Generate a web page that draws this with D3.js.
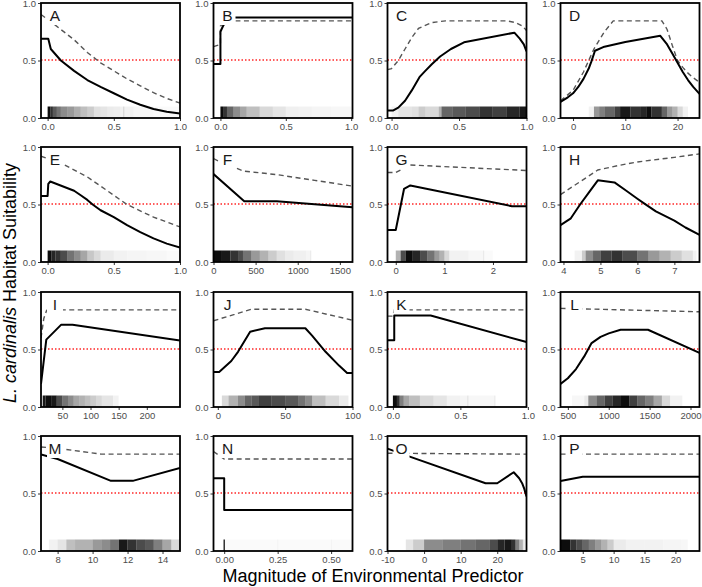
<!DOCTYPE html>
<html>
<head>
<meta charset="utf-8">
<script src="https://cdn.jsdelivr.net/npm/d3@7"></script>
<style>
  body { margin: 0; background: #fff; }
  svg { font-family: "Liberation Sans", Arial, sans-serif; }
  .tick text { fill: #4d4d4d; font-size: 9.5px; }
  .tick line { stroke: #333; }
</style>
</head>
<body>
<div id="svg-container"></div>
<script>
// ---------------- data ----------------
const letters = ["A","B","C","D","E","F","G","H","I","J","K","L","M","N","O","P"];

const xDomains = [
  [-0.05, 1.0], [-0.053, 1.01], [-0.03, 1.0], [-2.4, 24.2],
  [-0.05, 1.0], [0, 1650], [-0.17, 2.69], [3.92, 7.68],
  [12, 259], [-3.2, 100], [-0.04, 0.99], [410, 2110],
  [7.05, 15], [-0.05, 0.6], [-10, 28], [1.4, 23.9]
];
const xTicks = [
  [0, 0.5, 1], [0, 0.5, 1], [0, 0.5, 1], [0, 10, 20],
  [0, 0.5, 1], [0, 500, 1000, 1500], [0, 1, 2], [4, 5, 6, 7],
  [50, 100, 150, 200], [0, 50, 100], [0, 0.5, 1], [500, 1000, 1500, 2000],
  [8, 10, 12, 14], [0, 0.25, 0.5], [-10, 0, 10, 20], [5, 10, 15, 20]
];
const xTickLabels = [
  ["0.0","0.5","1.0"], ["0.0","0.5","1.0"], ["0.0","0.5","1.0"], ["0","10","20"],
  ["0.0","0.5","1.0"], ["0","500","1000","1500"], ["0","1","2"], ["4","5","6","7"],
  ["50","100","150","200"], ["0","50","100"], ["0.0","0.5","1.0"], ["500","1000","1500","2000"],
  ["8","10","12","14"], ["0.00","0.25","0.50"], ["-10","0","10","20"], ["5","10","15","20"]
];
const yTicks = [0, 0.5, 1];
const yTickLabels = ["0.0", "0.5", "1.0"];

// solid = fitted response, dashed = upper band, rug = [x, darkness]
const solidA = [[-0.05,0.69],[0.005,0.69],[0.024,0.60],[0.1,0.5],[0.2,0.41],[0.3,0.33],[0.4,0.27],[0.5,0.215],[0.6,0.16],[0.7,0.115],[0.8,0.078],[0.9,0.055],[1.0,0.04]];
const dashedA = [[-0.05,0.9],[0.044,0.82],[0.1,0.77],[0.2,0.68],[0.3,0.57],[0.4,0.48],[0.5,0.41],[0.6,0.34],[0.7,0.28],[0.8,0.22],[0.9,0.17],[1.0,0.13]];
const rugA = [[0,0.95],[0.02,0.8],[0.04,0.65],[0.07,0.55],[0.1,0.45],[0.15,0.4],[0.2,0.32],[0.25,0.25],[0.3,0.2],[0.35,0.12],[0.4,0.1],[0.45,0.08],[0.5,0.07],[0.55,0.05],[0.57,0.15],[0.58,0.05],[0.65,0.03],[0.8,0.02],[1.0,0]];

const solidB = [[-0.053,0.47],[0.0,0.47],[0.0,0.75],[0.02,0.8],[0.06,0.875],[1.01,0.875]];
const dashedB = [[-0.053,0.62],[0.0,0.64],[0.0,0.8],[0.05,0.845],[1.01,0.845]];
const rugB = [[0,0.95],[0.02,0.8],[0.05,0.6],[0.1,0.45],[0.15,0.35],[0.2,0.25],[0.3,0.15],[0.4,0.1],[0.5,0.06],[0.6,0.05],[0.7,0.04],[0.85,0.03],[1.0,0]];

const solidC = [[-0.03,0.065],[0.01,0.065],[0.05,0.09],[0.1,0.15],[0.15,0.24],[0.21,0.36],[0.25,0.41],[0.3,0.47],[0.36,0.535],[0.44,0.6],[0.537,0.658],[0.91,0.742],[0.95,0.69],[0.98,0.64],[1.0,0.58]];
const dashedC = [[-0.03,0.42],[0.0,0.43],[0.05,0.5],[0.1,0.6],[0.15,0.7],[0.2,0.78],[0.3,0.83],[0.4,0.845],[0.85,0.845],[0.92,0.83],[0.97,0.8],[1.0,0.76]];
const rugC = [[0,0.05],[0.05,0.1],[0.15,0.12],[0.2,0.2],[0.25,0.15],[0.35,0.3],[0.37,0.6],[0.45,0.65],[0.55,0.7],[0.65,0.8],[0.75,0.75],[0.85,0.85],[0.95,0.9],[1.0,0]];

const solidD = [[-2.4,0.14],[-1,0.18],[0,0.215],[1,0.27],[2,0.34],[3,0.43],[3.5,0.49],[4.2,0.585],[6,0.62],[10,0.66],[16.7,0.715],[18,0.64],[19,0.56],[20,0.48],[21,0.4],[22,0.33],[23,0.27],[24.2,0.21]];
const dashedD = [[-2.4,0.15],[0,0.24],[2,0.4],[3,0.5],[4,0.6],[6,0.75],[7.7,0.845],[17,0.845],[18,0.77],[19,0.63],[20,0.5],[21,0.44],[22,0.39],[23,0.35],[24.2,0.31]];
const rugD = [[3,0.05],[4,0.4],[5,0.5],[6,0.6],[8,0.75],[9,0.9],[11,0.8],[13,0.85],[14,0.95],[15,0.8],[17,0.6],[18,0.4],[19,0.3],[20,0.15],[21,0.05],[22,0]];

const solidE = [[-0.05,0.575],[0.0,0.575],[0.005,0.68],[0.02,0.70],[0.2,0.62],[0.25,0.58],[0.3,0.54],[0.34,0.5],[0.4,0.45],[0.5,0.39],[0.6,0.32],[0.7,0.26],[0.8,0.205],[0.9,0.16],[1.0,0.125]];
const dashedE = [[-0.05,0.92],[0.05,0.88],[0.11,0.855],[0.3,0.74],[0.45,0.62],[0.6,0.5],[0.8,0.39],[1.0,0.305]];
const rugE = [[0,0.95],[0.03,0.85],[0.06,0.8],[0.1,0.7],[0.15,0.55],[0.2,0.45],[0.25,0.35],[0.3,0.22],[0.35,0.15],[0.4,0.08],[0.5,0.05],[0.6,0.04],[0.75,0.03],[0.9,0.02],[1.0,0]];

const solidF = [[0,0.765],[365,0.528],[750,0.528],[1650,0.476]];
const dashedF = [[0,0.9],[80,0.87],[360,0.79],[750,0.76],[1200,0.71],[1650,0.66]];
const rugF = [[0,0.95],[100,0.9],[200,0.8],[300,0.7],[350,0.55],[450,0.4],[550,0.3],[650,0.2],[750,0.12],[850,0.08],[950,0.06],[1100,0.04],[1150,0.1],[1160,0]];

const solidG = [[-0.17,0.278],[0.0,0.278],[0.17,0.635],[0.3,0.666],[2.39,0.485],[2.69,0.485]];
const dashedG = [[-0.17,0.778],[0.0,0.778],[0.1,0.8],[0.22,0.845],[2.69,0.796]];
const rugG = [[0.0,0.3],[0.1,0.7],[0.2,0.95],[0.35,0.85],[0.5,0.7],[0.65,0.55],[0.8,0.4],[0.9,0.3],[1.0,0.15],[1.1,0.05],[1.5,0.03],[1.8,0.1],[1.82,0.02],[2.0,0]];

const solidH = [[3.92,0.32],[4.2,0.38],[4.45,0.5],[4.7,0.61],[4.93,0.71],[5.38,0.692],[5.7,0.62],[6.0,0.55],[6.2,0.505],[6.5,0.44],[7.0,0.36],[7.3,0.3],[7.68,0.235]];
const dashedH = [[3.92,0.586],[4.93,0.8],[5.5,0.84],[6.0,0.87],[7.0,0.91],[7.68,0.94]];
const rugH = [[4.3,0.05],[4.5,0.2],[4.6,0.45],[4.8,0.6],[5.0,0.75],[5.3,0.8],[5.6,0.7],[6.0,0.55],[6.3,0.4],[6.6,0.3],[6.9,0.2],[7.2,0.12],[7.5,0.05],[7.6,0]];

const solidI = [[12,0.2],[21.4,0.586],[48,0.716],[68,0.716],[259,0.578]];
const dashedI = [[12,0.6],[17,0.77],[22,0.84],[25,0.845],[259,0.845]];
const rugI = [[15,0.9],[20,0.95],[30,0.9],[40,0.7],[50,0.55],[60,0.45],[70,0.35],[80,0.3],[90,0.25],[100,0.2],[110,0.15],[120,0.1],[140,0.05],[150,0]];

const solidJ = [[-3.2,0.305],[1,0.305],[10,0.4],[15,0.48],[24,0.655],[35,0.685],[65,0.685],[70,0.62],[80,0.48],[90,0.36],[96,0.295],[100,0.295]];
const dashedJ = [[-3.2,0.75],[25,0.85],[65,0.85],[100,0.755]];
const rugJ = [[3,0.15],[8,0.3],[15,0.45],[20,0.6],[25,0.65],[30,0.75],[40,0.7],[50,0.65],[60,0.55],[65,0.45],[70,0.25],[80,0.15],[90,0.08],[97,0]];

const solidK = [[-0.04,0.58],[0.01,0.58],[0.01,0.795],[0.28,0.795],[0.99,0.565]];
const dashedK = [[-0.04,0.79],[0.0,0.79],[0.01,0.845],[0.99,0.845]];
const rugK = [[0.0,0.95],[0.03,0.8],[0.05,0.5],[0.08,0.35],[0.12,0.25],[0.2,0.15],[0.3,0.1],[0.4,0.05],[0.5,0.04],[0.55,0.1],[0.56,0.03],[0.75,0.08],[0.76,0],[1.0,0]];

const solidL = [[410,0.2],[500,0.25],[600,0.33],[700,0.44],[790,0.556],[900,0.61],[1000,0.64],[1145,0.672],[1480,0.672],[2110,0.47]];
const dashedL = [[410,0.858],[2110,0.828]];
const rugL = [[550,0.03],[700,0.08],[750,0.45],[850,0.6],[950,0.75],[1050,0.85],[1150,0.95],[1250,0.75],[1350,0.6],[1450,0.5],[1550,0.35],[1650,0.15],[1750,0.05],[1900,0]];

const solidM = [[7.05,0.84],[8,0.8],[11.05,0.61],[12.3,0.61],[15,0.722]];
const dashedM = [[7.05,0.905],[8.3,0.887],[10.5,0.842],[15,0.842]];
const rugM = [[7.5,0.05],[8,0.1],[8.5,0.25],[9,0.3],[10,0.4],[10.5,0.45],[11,0.55],[11.5,0.9],[12,0.8],[12.5,0.7],[13,0.65],[13.5,0.5],[14,0.35],[14.5,0.15],[15,0.05]];

const solidN = [[-0.05,0.632],[0.0,0.632],[0.0,0.357],[0.6,0.357]];
const dashedN = [[-0.05,0.865],[0.0,0.8],[0.6,0.8]];
const rugN = [[-0.003,0.95],[0.003,0.02],[0.249,0.06],[0.252,0.02],[0.499,0.05],[0.502,0.02],[0.6,0]];

const solidO = [[-10,0.89],[-4.7,0.829],[16.8,0.589],[20,0.589],[24.5,0.685],[26,0.633],[26.8,0.59],[27.4,0.54],[28,0.475]];
const dashedO = [[-10,0.85],[28,0.842]];
const rugO = [[-5,0.1],[-3,0.2],[0,0.45],[5,0.5],[10,0.55],[14,0.6],[18,0.7],[20,0.85],[22,0.9],[24,0.8],[25,0.5],[26,0.3],[27,0.1],[27.5,0]];

const solidP = [[1.4,0.609],[5,0.646],[23.9,0.646]];
const dashedP = [[1.4,0.842],[23.9,0.842]];
const rugP = [[1.4,0.95],[3,0.8],[4,0.7],[5,0.6],[6,0.5],[7,0.4],[8,0.3],[9,0.2],[10,0.08],[12,0.05],[15,0.05],[18,0.04],[21,0.03],[22,0]];

const solids = [solidA,solidB,solidC,solidD,solidE,solidF,solidG,solidH,solidI,solidJ,solidK,solidL,solidM,solidN,solidO,solidP];
const dashes = [dashedA,dashedB,dashedC,dashedD,dashedE,dashedF,dashedG,dashedH,dashedI,dashedJ,dashedK,dashedL,dashedM,dashedN,dashedO,dashedP];
const rugs = [rugA,rugB,rugC,rugD,rugE,rugF,rugG,rugH,rugI,rugJ,rugK,rugL,rugM,rugN,rugO,rugP];

// ---------------- layout ----------------
const width = 702, height = 587;
const colX = [41, 213.5, 387.5, 560.5];
const rowY = [3, 147, 292, 436];
const pw = 139, ph = 115;

const svg = d3.select("#svg-container").append("svg")
  .attr("width", width).attr("height", height);

letters.forEach((letter, i) => {
  const x0 = colX[i % 4], y0 = rowY[Math.floor(i / 4)];
  const g = svg.append("g").attr("transform", `translate(${x0},${y0})`);

  const xScale = d3.scaleLinear().domain(xDomains[i]).range([0, pw]);
  const yScale = d3.scaleLinear().domain([0, 1]).range([ph, 0]);

  g.append("clipPath").attr("id", `clip-${letter}`)
    .append("rect").attr("width", pw).attr("height", ph);

  const inner = g.append("g").attr("clip-path", `url(#clip-${letter})`);

  // rug (density of records)
  const rug = rugs[i];
  inner.selectAll("rect.rug")
    .data(rug.slice(0, -1))
    .join("rect")
    .attr("class", "rug")
    .attr("x", (d) => xScale(d[0]))
    .attr("width", (d, j) => Math.max(0.8, xScale(rug[j + 1][0]) - xScale(d[0])))
    .attr("y", yScale(0.1))
    .attr("height", yScale(0) - yScale(0.1))
    .attr("fill", "#000")
    .attr("fill-opacity", (d) => d[1]);

  // 0.5 threshold (red dotted)
  inner.append("line")
    .attr("x1", 0).attr("x2", pw)
    .attr("y1", yScale(0.5) - 0.5).attr("y2", yScale(0.5) - 0.5)
    .attr("stroke", "#ff0000")
    .attr("stroke-width", 1.6)
    .attr("stroke-opacity", 0.85)
    .attr("stroke-dasharray", "1.5 2");

  const line = d3.line().x((d) => xScale(d[0])).y((d) => yScale(d[1]));

  inner.append("path")
    .datum(dashes[i])
    .attr("fill", "none")
    .attr("stroke", "#555")
    .attr("stroke-width", 1.4)
    .attr("stroke-dasharray", "5 3.5")
    .attr("d", line);

  inner.append("path")
    .datum(solids[i])
    .attr("fill", "none")
    .attr("stroke", "#000")
    .attr("stroke-width", 2)
    .attr("stroke-linejoin", "round")
    .attr("d", line);

  // panel letter on a white label
  inner.append("rect")
    .attr("x", 6).attr("y", 4).attr("width", 16).attr("height", 18)
    .attr("fill", "#fff");
  g.append("text")
    .attr("x", 14).attr("y", 18)
    .attr("text-anchor", "middle")
    .style("font-size", "15.5px")
    .attr("fill", "#1a1a1a")
    .text(letter);

  // axes
  const xAxis = d3.axisBottom(xScale)
    .tickValues(xTicks[i])
    .tickFormat((d, j) => xTickLabels[i][j])
    .tickSize(3)
    .tickPadding(2);
  g.append("g")
    .attr("class", "x-axis")
    .attr("transform", `translate(0,${ph})`)
    .call(xAxis)
    .call((a) => a.select(".domain").remove());

  const yAxis = d3.axisLeft(yScale)
    .tickValues(yTicks)
    .tickFormat((d, j) => yTickLabels[j])
    .tickSize(3)
    .tickPadding(2);
  g.append("g")
    .attr("class", "y-axis")
    .call(yAxis)
    .call((a) => a.select(".domain").remove());

  // frame
  g.append("rect")
    .attr("width", pw).attr("height", ph)
    .attr("fill", "none")
    .attr("stroke", "#000")
    .attr("stroke-width", 1.8);
});

// axis titles
const yTitle = svg.append("text")
  .attr("transform", "translate(16,283) rotate(-90)")
  .attr("text-anchor", "middle")
  .style("font-size", "18px")
  .attr("fill", "#000");
yTitle.append("tspan").style("font-style", "italic").text("L. cardinalis");
yTitle.append("tspan").text(" Habitat Suitability");

svg.append("text")
  .attr("x", 373).attr("y", 582)
  .attr("text-anchor", "middle")
  .style("font-size", "18px")
  .attr("fill", "#000")
  .text("Magnitude of Environmental Predictor");
</script>
</body>
</html>
